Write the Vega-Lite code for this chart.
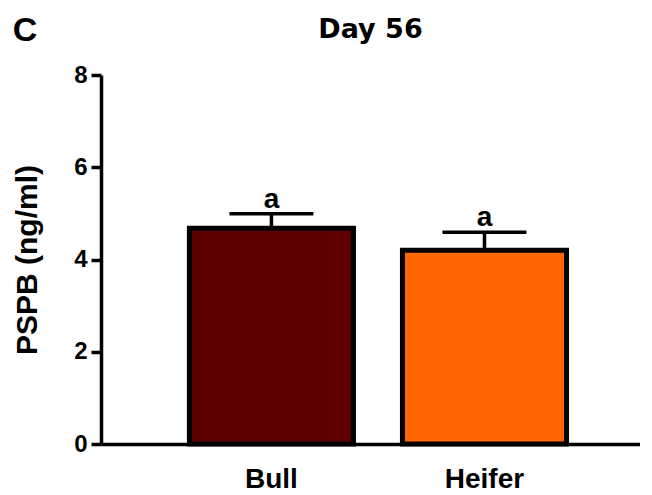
{
  "$schema": "https://vega.github.io/schema/vega-lite/v6.json",
  "autosize": {"type": "pad"},
  "padding": {"left": 12, "top": 14, "right": 0, "bottom": 0},
  "background": "white",
  "title": {
    "text": "C",
    "anchor": "start",
    "frame": "bounds",
    "font": "Liberation Sans",
    "fontSize": 34,
    "fontWeight": "bold",
    "color": "black",
    "baseline": "alphabetic",
    "offset": -30,
    "dy": 29
  },
  "config": {
    "view": {"stroke": null},
    "font": "Liberation Sans",
    "axis": {
      "domainColor": "black",
      "domainWidth": 3.5,
      "tickColor": "black",
      "tickWidth": 3.5,
      "labelColor": "black",
      "labelFont": "Liberation Sans",
      "labelFontWeight": "bold",
      "titleFont": "Liberation Sans",
      "titleFontWeight": "bold",
      "titleColor": "black",
      "grid": false
    }
  },
  "hconcat": [
    {
      "width": 539,
      "height": 369,
      "title": {
        "text": "Day 56",
        "font": "DejaVu Sans",
        "fontSize": 27,
        "fontWeight": "bold",
        "color": "black",
        "anchor": "middle",
        "baseline": "alphabetic",
        "offset": -2
      },
      "data": {
        "values": [
          {"group": "Bull", "pspb": 4.68, "sem": 0.31, "upper": 4.99, "sig": "a"},
          {"group": "Heifer", "pspb": 4.2, "sem": 0.39, "upper": 4.59, "sig": "a"}
        ]
      },
      "encoding": {
        "x": {
          "field": "group",
          "type": "nominal",
          "sort": ["Bull", "Heifer"],
          "scale": {"paddingInner": 0.23, "paddingOuter": 0.38, "align": 0.546},
          "axis": {
            "title": null,
            "ticks": false,
            "labelAngle": 0,
            "labelFontSize": 28,
            "labelPadding": 21
          }
        }
      },
      "layer": [
        {
          "mark": {"type": "rule", "color": "black", "strokeWidth": 3.5},
          "encoding": {
            "y": {"field": "pspb", "type": "quantitative"},
            "y2": {"field": "upper"}
          }
        },
        {
          "mark": {"type": "tick", "color": "black", "opacity": 1, "size": 84, "thickness": 3.5, "orient": "horizontal"},
          "encoding": {
            "y": {"field": "upper", "type": "quantitative"}
          }
        },
        {
          "mark": {"type": "bar", "stroke": "black", "strokeWidth": 5, "strokeJoin": "miter", "opacity": 1},
          "encoding": {
            "y": {
              "field": "pspb",
              "type": "quantitative",
              "scale": {"domain": [0, 8]},
              "axis": {
                "title": "PSPB (ng/ml)",
                "titleFontSize": 30,
                "titlePadding": 31,
                "values": [0, 2, 4, 6, 8],
                "labelFontSize": 24,
                "tickSize": 10,
                "labelPadding": 4
              }
            },
            "color": {
              "field": "group",
              "type": "nominal",
              "scale": {"domain": ["Bull", "Heifer"], "range": ["#5e0000", "#ff6600"]},
              "legend": null
            }
          }
        },
        {
          "mark": {
            "type": "text",
            "font": "Liberation Sans",
            "fontSize": 28,
            "fontWeight": "bold",
            "color": "black",
            "baseline": "alphabetic",
            "dy": -6
          },
          "encoding": {
            "y": {"field": "upper", "type": "quantitative"},
            "text": {"field": "sig"}
          }
        }
      ]
    }
  ]
}
